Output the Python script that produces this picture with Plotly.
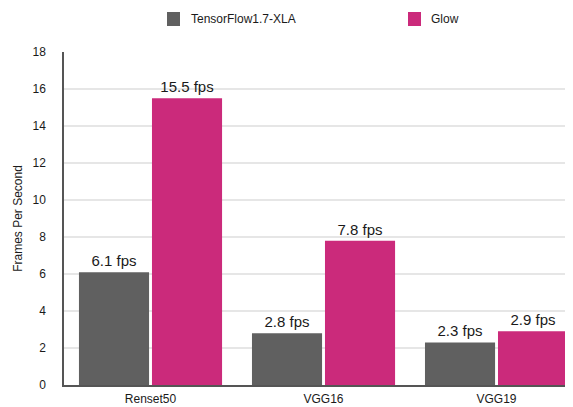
import plotly.graph_objects as go

categories = ["Renset50", "VGG16", "VGG19"]
tf_xla = [6.1, 2.8, 2.3]
glow = [15.5, 7.8, 2.9]
series_names = ["TensorFlow1.7-XLA", "Glow"]
colors = ["#606060", "#CB2A7B"]
y_ticks = [0, 2, 4, 6, 8, 10, 12, 14, 16, 18]

FONT = "Liberation Sans, Arial, Helvetica, sans-serif"

# page body has an 8px default margin; size the figure to compensate
OFF = 8
W, H = 573 - OFF, 407 - OFF
L, T, B = 64 - OFF, 52 - OFF, 22

fig = go.Figure()
for name, vals, col in zip(series_names, [tf_xla, glow], colors):
    fig.add_trace(go.Bar(
        x=categories, y=vals, name=name, marker=dict(color=col, line=dict(width=0)),
        text=[f"{v} fps" for v in vals], textposition="outside",
        textfont=dict(family=FONT, size=15, color="#1a1a1a"),
        cliponaxis=False, showlegend=False,
    ))

# legend drawn manually (screen pixel positions -> paper coords)
px0, px1, py0, py1 = 64, 573, 385, 52
def pxx(x):
    return (x - px0) / (px1 - px0)
def pyy(y):
    return (py0 - y) / (py0 - py1)

leg = [(167, 189, series_names[0], colors[0]), (408, 429, series_names[1], colors[1])]
for sx, tx, name, col in leg:
    fig.add_shape(type="rect", xref="paper", yref="paper",
                  x0=pxx(sx), x1=pxx(sx + 13), y0=pyy(26), y1=pyy(12),
                  fillcolor=col, line=dict(width=0))
    fig.add_annotation(xref="paper", yref="paper", x=pxx(tx), y=pyy(19),
                       text=name, showarrow=False, xanchor="left", yanchor="middle",
                       font=dict(family=FONT, size=12, color="#1a1a1a"))

fig.update_layout(
    width=W, height=H,
    margin=dict(l=L, r=0, t=T, b=B, autoexpand=False),
    paper_bgcolor="white", plot_bgcolor="white",
    barmode="group", bargap=0.156, bargroupgap=0.04,
    font=dict(family=FONT, size=12, color="#1a1a1a"),
)
fig.update_yaxes(
    range=[0, 18], tickvals=y_ticks, showgrid=True, gridcolor="#e6e6e6", gridwidth=1.5,
    showline=True, linecolor="#555555", linewidth=1.5, zeroline=False,
    ticks="", ticklabelstandoff=14, tickfont=dict(size=12),
    title=dict(text="Frames Per Second", font=dict(size=12), standoff=7),
    automargin=False,
)
fig.update_xaxes(
    range=[-0.5, 2.442], showline=True, linecolor="#555555", linewidth=1.5,
    ticks="", tickfont=dict(size=12), automargin=False, ticklabelstandoff=2,
)

fig.write_html("out.html")
